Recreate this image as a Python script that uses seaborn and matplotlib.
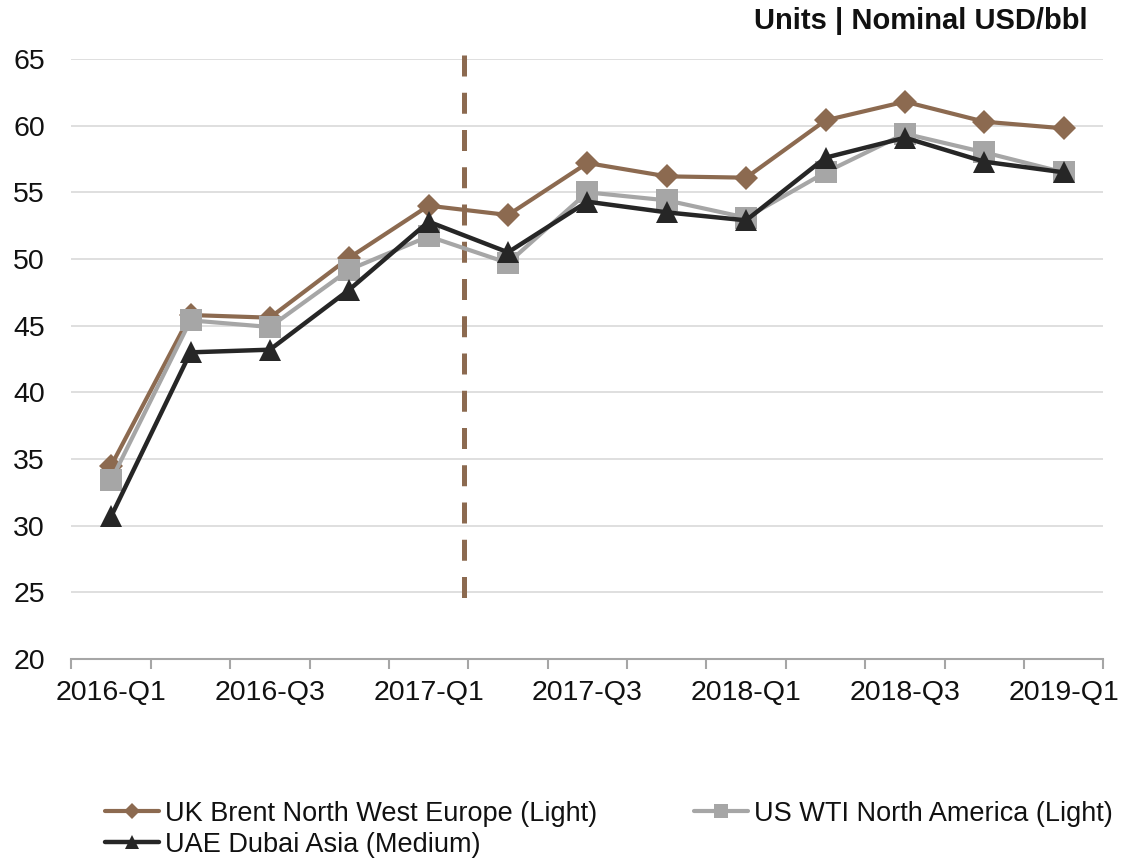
import numpy as np
import pandas as pd
import matplotlib
matplotlib.use('Agg')
import matplotlib.pyplot as plt
import seaborn as sns


quarters = ['2016-Q1', '2016-Q2', '2016-Q3', '2016-Q4',
            '2017-Q1', '2017-Q2', '2017-Q3', '2017-Q4',
            '2018-Q1', '2018-Q2', '2018-Q3', '2018-Q4',
            '2019-Q1']
brent = [34.5, 45.8, 45.6, 50.1, 54.0, 53.3, 57.2, 56.2, 56.1, 60.4, 61.8, 60.3, 59.8]
wti = [33.4, 45.4, 44.9, 49.2, 51.7, 49.7, 55.0, 54.4, 53.1, 56.5, 59.4, 58.0, 56.5]
dubai = [30.7, 43.0, 43.2, 47.7, 52.8, 50.5, 54.3, 53.5, 52.9, 57.6, 59.1, 57.3, 56.5]
names = ['UK Brent North West Europe (Light)',
         'US WTI North America (Light)',
         'UAE Dubai Asia (Medium)']
y_ticks = [20, 25, 30, 35, 40, 45, 50, 55, 60, 65]

df = pd.DataFrame({
    'Quarter': quarters * 3,
    'Price': brent + wti + dubai,
    'Series': np.repeat(names, len(quarters)),
})

sns.set_style('white')
plt.rcParams['font.family'] = ['Liberation Sans', 'DejaVu Sans']

fig = plt.figure(figsize=(11.45, 8.59), dpi=100)
ax = fig.add_axes([0.0624, 0.2328, 0.9012, 0.6985])

brown = '#8C6A50'
styles = {
    names[0]: dict(color=brown, marker='D', markersize=12, lw=3.0),
    names[1]: dict(color='#A6A6A6', marker='s', markersize=15.5, lw=3.0),
    names[2]: dict(color='#262626', marker='^', markersize=16.5, lw=3.2),
}
for i, name in enumerate(names):
    sub = df[df['Series'] == name]
    sns.lineplot(data=sub, x='Quarter', y='Price', ax=ax, label=name,
                 markeredgewidth=0, zorder=3 + i, sort=False, **styles[name])

# vertical dashed separator between 2017-Q1 and 2017-Q2
ax.plot([4.44, 4.44], [65.3, 24.55], color=brown, lw=3.6,
        linestyle=(0, (4.2, 3.25)), clip_on=False, zorder=2)

ax.set_ylim(20, 65)
ax.set_yticks(y_ticks)
ax.set_xlim(-0.5, len(quarters) - 0.5)
ax.set_xticks(range(0, len(quarters), 2))
ax.set_xticklabels(quarters[::2])
ax.set_xticks(np.arange(-0.5, len(quarters), 1), minor=True)
ax.set_xlabel('')
ax.set_ylabel('')

ax.yaxis.grid(True, color='#D9D9D9', lw=1.2)
ax.set_axisbelow(True)
for s in ['left', 'right', 'top']:
    ax.spines[s].set_visible(False)
ax.spines['bottom'].set_color('#A6A6A6')
ax.spines['bottom'].set_linewidth(1.5)

ax.tick_params(axis='y', length=0, pad=19, labelsize=20.5, labelcolor='#111111')
ax.tick_params(axis='x', which='major', bottom=True, length=0, pad=15,
               labelsize=20.5, labelcolor='#111111')
ax.tick_params(axis='x', which='minor', bottom=True, length=7, width=1.5,
               color='#A6A6A6', direction='out')

fig.text(0.950, 0.9756, 'Units | Nominal USD/bbl', ha='right', va='center',
         fontsize=21, fontweight='bold', color='#111111')

handles, labels = ax.get_legend_handles_labels()
ax.get_legend().remove()
order = [0, 2, 1]
fig.legend([handles[i] for i in order], [labels[i] for i in order],
           loc='center left', bbox_to_anchor=(0.0917, 0.0345), ncol=2,
           frameon=False, fontsize=19.5, handlelength=2.0, handletextpad=0.2,
           columnspacing=3.6, labelspacing=0.18, borderpad=0, borderaxespad=0,
           markerscale=0.65, labelcolor='#111111')

plt.savefig('out.png', dpi=100)
